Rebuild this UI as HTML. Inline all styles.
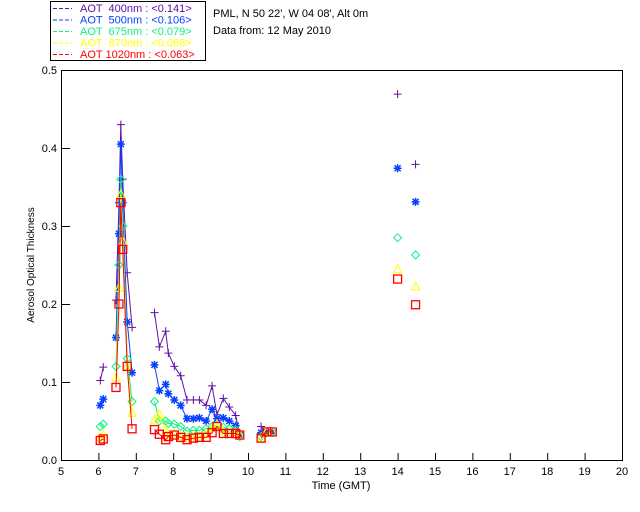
<!DOCTYPE html>
<html><head><meta charset="utf-8"><style>
html,body{margin:0;padding:0;background:#fff;}
svg{display:block;font-family:"Liberation Sans",sans-serif;}
</style></head><body>
<svg id="chart" width="640" height="512" viewBox="0 0 640 512">
<g>
<rect x="50.5" y="1.5" width="155" height="59" fill="#fff" stroke="#000"/>
</g>
<text x="213" y="17" font-size="11">PML, N 50 22', W 04 08', Alt 0m</text>
<text x="213" y="34" font-size="11">Data from: 12 May 2010</text>
<g id="axes"></g>
<g id="marks"></g>
</svg>
<script>
const times=[6.05,6.13,6.47,6.55,6.6,6.65,6.77,6.9,7.5,7.63,7.8,7.87,8.03,8.2,8.37,8.54,8.7,8.88,9.04,9.17,9.34,9.5,9.67,9.78,10.35,10.5,10.65,14.0,14.48];
const aot400=[0.102,0.119,0.205,0.33,0.43,0.36,0.24,0.17,0.189,0.145,0.165,0.137,0.12,0.108,0.077,0.077,0.077,0.07,0.095,0.058,0.079,0.068,0.057,0.032,0.043,0.035,0.035,0.469,0.379];
const aot500=[0.07,0.078,0.157,0.29,0.405,0.33,0.177,0.112,0.122,0.089,0.097,0.085,0.077,0.07,0.053,0.053,0.054,0.05,0.065,0.053,0.054,0.05,0.044,0.032,0.035,0.035,0.035,0.374,0.331];
const aot675=[0.043,0.046,0.12,0.25,0.36,0.3,0.13,0.075,0.075,0.05,0.05,0.047,0.046,0.043,0.037,0.038,0.038,0.04,0.043,0.044,0.042,0.04,0.039,0.03,0.03,0.035,0.035,0.285,0.263];
const aot870=[0.028,0.032,0.105,0.22,0.34,0.28,0.12,0.06,0.051,0.058,0.038,0.03,0.033,0.03,0.028,0.03,0.03,0.032,0.04,0.045,0.036,0.035,0.035,0.032,0.028,0.036,0.036,0.244,0.222];
const aot1020=[0.025,0.027,0.093,0.2,0.33,0.27,0.12,0.04,0.039,0.033,0.026,0.03,0.032,0.029,0.026,0.028,0.029,0.029,0.035,0.043,0.034,0.034,0.034,0.032,0.028,0.036,0.036,0.232,0.199];
const seriesNames=["AOT  400nm : <0.141>","AOT  500nm : <0.106>","AOT  675nm : <0.079>","AOT  870nm : <0.068>","AOT 1020nm : <0.063>"];
const xTicks=[5,6,7,8,9,10,11,12,13,14,15,16,17,18,19,20];
const yTicks=[0.0,0.1,0.2,0.3,0.4,0.5];

const NS="http://www.w3.org/2000/svg";
const X0=61,X1=622,Y0=460,Y1=70;
function sx(t){return X0+(t-5)/15*(X1-X0);}
function sy(v){return Y0-v/0.5*(Y0-Y1);}
function mk(tag,attrs,parent){const e=document.createElementNS(NS,tag);for(const k in attrs)e.setAttribute(k,attrs[k]);parent.appendChild(e);return e;}
const axes=document.getElementById('axes'),marks=document.getElementById('marks'),svg=document.getElementById('chart');

const frame=mk('rect',{x:X0+0.5,y:Y1+0.5,width:X1-X0,height:Y0-Y1,fill:'none',stroke:'#000'},axes);


xTicks.forEach(t=>{
  const l=mk('line',{x1:sx(t)+0.5,x2:sx(t)+0.5,y1:Y0,y2:Y0-7,stroke:'#000'},axes);
  
  
  const tx=mk('text',{x:sx(t),y:Y0+15,'font-size':11,'text-anchor':'middle'},axes);
  tx.textContent=String(t);
  
  
});
yTicks.forEach(v=>{
  const l=mk('line',{x1:X0,x2:X0+9,y1:sy(v)+0.5,y2:sy(v)+0.5,stroke:'#000'},axes);
  
  
  const tx=mk('text',{x:X0-4,y:sy(v)+4,'font-size':11,'text-anchor':'end'},axes);
  tx.textContent=v.toFixed(1);
  
  
});
const xt=mk('text',{x:341,y:489,'font-size':11,'text-anchor':'middle'},axes);
xt.textContent='Time (GMT)';


const yt=mk('text',{x:0,y:0,'font-size':10,'text-anchor':'middle',transform:'translate(34,265) rotate(-90)'},axes);
yt.textContent='Aerosol Optical Thickness';



const allSeries=[aot400,aot500,aot675,aot870,aot1020];
const colors=['#6010a8','#0840ff','#10f080','#ffff00','#ff0000'];
const shapes=['plus','star','diamond','triangle','square'];
function marker(shape,x,y,c,g){
  let e;
  if(shape==='plus'){e=mk('path',{d:`M${x-4} ${y}H${x+4}M${x} ${y-4}V${y+4}`,stroke:c,fill:'none'},g);}
  else if(shape==='star'){e=mk('path',{d:`M${x-4} ${y}H${x+4}M${x} ${y-4}V${y+4}M${x-3} ${y-3}L${x+3} ${y+3}M${x-3} ${y+3}L${x+3} ${y-3}`,stroke:c,fill:'none','stroke-width':1.5},g);}
  else if(shape==='diamond'){e=mk('path',{d:`M${x} ${y-4}L${x+4} ${y}L${x} ${y+4}L${x-4} ${y}Z`,stroke:c,fill:'none'},g);}
  else if(shape==='triangle'){e=mk('path',{d:`M${x} ${y-5}L${x+4} ${y+3}L${x-4} ${y+3}Z`,stroke:c,fill:'none'},g);}
  else {e=mk('rect',{x:x-4,y:y-4,width:8,height:8,stroke:c,fill:'none','stroke-width':1.3},g);}
  return e;
}
allSeries.forEach((vals,si)=>{
  const g=mk('g',{},marks);
  
  
  let d='';
  for(let i=0;i<times.length;i++){
    const brk=i===0||times[i]-times[i-1]>0.3;
    d+=(brk?'M':'L')+sx(times[i]).toFixed(1)+' '+sy(vals[i]).toFixed(1);
  }
  const p=mk('path',{d:d,stroke:colors[si],fill:'none','stroke-width':1},g);
  
  
  for(let i=0;i<times.length;i++){
    const m=marker(shapes[si],sx(times[i]),sy(vals[i]),colors[si],g);
    
    
  }
  const ly=12+si*11.5;
  const ll=mk('line',{x1:53,x2:72,y1:ly-3.5,y2:ly-3.5,stroke:colors[si],'stroke-dasharray':'4 2'},svg);
  
  
  const lt=mk('text',{x:80,y:ly,'font-size':11,fill:colors[si],'xml:space':'preserve'},svg);
  lt.setAttribute('style','white-space:pre');
  lt.textContent=seriesNames[si];
  
  
});
</script>
</body></html>
